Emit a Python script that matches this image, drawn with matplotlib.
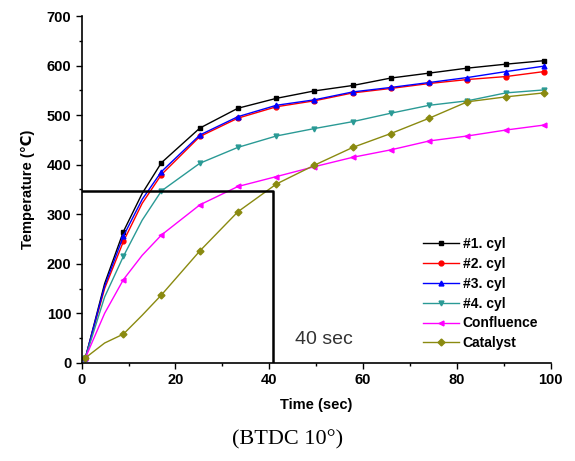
import matplotlib
matplotlib.use("Agg")
import matplotlib.pyplot as plt

plt.rcParams["font.family"] = ["Liberation Sans", "DejaVu Sans"]

# time samples (sec); markers sit on every sample except the two extra early points
time_s = [0.8, 4.9, 8.9, 12.9, 17.0, 25.2, 33.3, 41.5, 49.6, 57.8, 65.9, 74.1, 82.2, 90.4, 98.5]
marker_idx = [0, 2, 4, 5, 6, 7, 8, 9, 10, 11, 12, 13, 14]

cyl1 = [10, 160, 265, 342, 404, 474, 514, 534, 549, 560, 575, 585, 595, 603, 610]
cyl2 = [10, 150, 245, 322, 380, 457, 494, 517, 529, 545, 554, 564, 572, 578, 588]
cyl3 = [10, 155, 256, 330, 386, 460, 497, 520, 531, 547, 556, 566, 576, 588, 599]
cyl4 = [10, 133, 215, 288, 347, 403, 435, 458, 473, 487, 504, 520, 529, 545, 551]
confluence = [10, 100, 168, 217, 258, 319, 356, 376, 396, 415, 430, 448, 458, 470, 480]
catalyst = [10, 40, 58, 96, 137, 226, 305, 361, 399, 435, 463, 494, 527, 537, 545]

series = [
    ("#1. cyl", cyl1, "black", "s"),
    ("#2. cyl", cyl2, "#ff0000", "o"),
    ("#3. cyl", cyl3, "#0000ff", "^"),
    ("#4. cyl", cyl4, "#2a9a95", "v"),
    ("Confluence", confluence, "#ff00ff", "<"),
    ("Catalyst", catalyst, "#8a8a10", "D"),
]

mark_t, mark_temp = 40.7, 347

fig = plt.figure(figsize=(5.75, 4.61), dpi=100)
ax = fig.add_axes([0.142, 0.213, 0.816, 0.752])

for label, vals, color, marker in series:
    ax.plot(time_s, vals, color=color, lw=1.0, marker=marker, ms=3.5,
            markevery=marker_idx, label=label)

# 40 sec reference box
ax.plot([0, mark_t, mark_t], [mark_temp, mark_temp, 0], color="black", lw=1.8)
ax.text(45.5, 47, "40 sec", fontsize=14, color="#333333", va="center")

ax.set_xlim(0, 100)
ax.set_ylim(0, 700)
ax.set_xticks(range(0, 101, 20))
ax.set_xticks(range(0, 101, 10), minor=True)
ax.set_yticks(range(0, 701, 100))
ax.set_yticks(range(0, 701, 50), minor=True)
ax.tick_params(which="both", direction="out", width=1)
ax.tick_params(which="major", length=4, labelsize=10.5)
ax.tick_params(which="minor", length=2.5)
for lab in ax.get_xticklabels() + ax.get_yticklabels():
    lab.set_fontweight("bold")
ax.spines["top"].set_visible(False)
ax.spines["right"].set_visible(False)
ax.spines["left"].set_linewidth(1.2)
ax.spines["bottom"].set_linewidth(1.2)

ax.set_xlabel("Time (sec)", fontsize=10.5, fontweight="bold", labelpad=8)
ax.set_ylabel("Temperature (\u2103)", fontsize=10.5, fontweight="bold", labelpad=8)

ax.legend(loc="lower right", bbox_to_anchor=(1.0, 0.0), frameon=False,
          handlelength=2.6, labelspacing=0.42, handletextpad=0.3,
          prop={"weight": "bold", "size": 10})

fig.text(0.5, 0.045, "(BTDC 10\u00b0)", fontsize=16, family="Liberation Serif",
         ha="center", va="center")

fig.savefig("out.png", dpi=100)
